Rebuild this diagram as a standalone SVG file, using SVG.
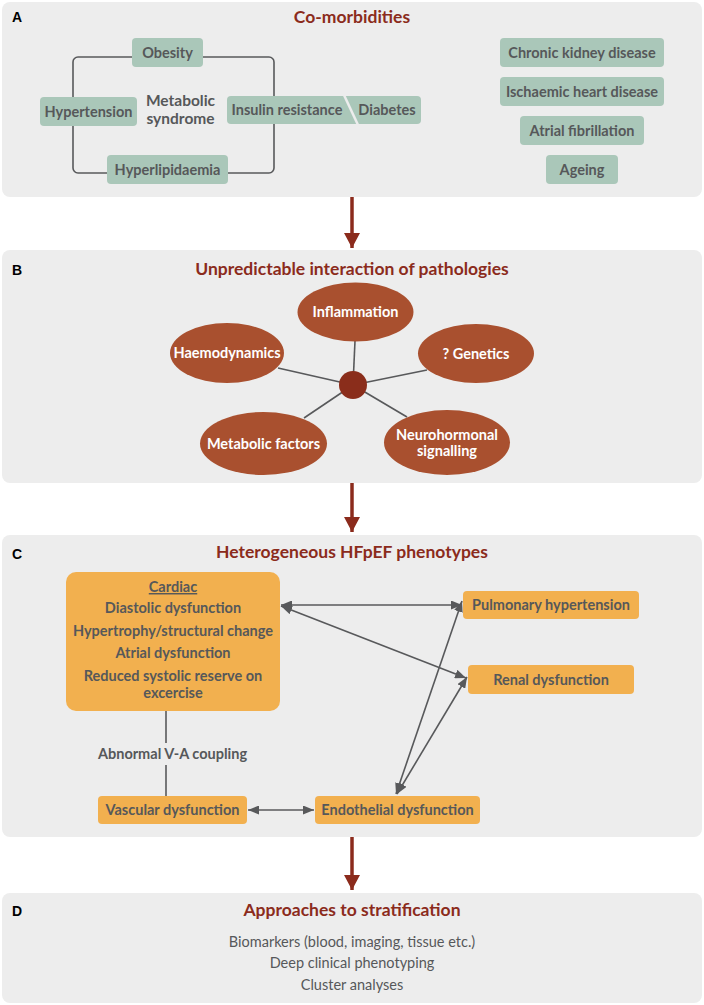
<svg xmlns="http://www.w3.org/2000/svg" width="704" height="1005" viewBox="0 0 704 1005">
<defs>
<style>
.panel{fill:#ededed}
.lbl{font-family:"Liberation Sans",Arial,sans-serif;font-weight:bold;font-size:14px;fill:#000}
.title{font-family:Lato,"Open Sans",sans-serif;font-weight:bold;font-size:17.5px;fill:#8b2b1c;text-anchor:middle}
.g{fill:#aac7b9}
.o{fill:#f2b04f}
.el{fill:#a9502f}
.t{font-family:Lato,"Open Sans",sans-serif;font-weight:bold;font-size:14.5px;fill:#56585a;text-anchor:middle}
.w{font-family:Lato,"Open Sans",sans-serif;font-weight:bold;font-size:14.5px;fill:#fff;text-anchor:middle}
.r{font-family:Lato,"Open Sans",sans-serif;font-size:14.5px;fill:#56585a;text-anchor:middle}
.ln{stroke:#58595b;stroke-width:1.6;fill:none}
.ga{stroke:#58595b;stroke-width:1.6;fill:none;marker-start:url(#gh);marker-end:url(#gh)}
.ra{stroke:#8b2b1c;stroke-width:3.5;fill:none;marker-end:url(#rh)}
</style>
<marker id="gh" markerUnits="userSpaceOnUse" markerWidth="11" markerHeight="9" refX="11" refY="4.5" orient="auto-start-reverse"><path d="M0,0 L11,4.5 L0,9 Z" fill="#58595b"/></marker>
<marker id="rh" markerUnits="userSpaceOnUse" markerWidth="15" markerHeight="16" refX="15" refY="8" orient="auto"><path d="M0,0 L15,8 L0,16 Z" fill="#8b2b1c"/></marker>
</defs>

<!-- Panels -->
<g id="panelA"><rect class="panel" x="2" y="2" width="700" height="195" rx="8"/><text class="lbl" x="12" y="22">A</text><text class="title" x="352" y="23">Co-morbidities</text></g>
<g id="panelB"><rect class="panel" x="2" y="250" width="700" height="233" rx="8"/><text class="lbl" x="12" y="275">B</text><text class="title" x="352" y="275">Unpredictable interaction of pathologies</text></g>
<g id="panelC"><rect class="panel" x="2" y="535" width="700" height="302" rx="8"/><text class="lbl" x="12" y="559">C</text><text class="title" x="352" y="558">Heterogeneous HFpEF phenotypes</text></g>
<g id="panelD"><rect class="panel" x="2" y="893" width="700" height="110" rx="8"/><text class="lbl" x="12" y="916">D</text><text class="title" x="352" y="916">Approaches to stratification</text></g>

<!-- Connectors -->
<g id="connectors">
<rect class="ln" x="73" y="57" width="201" height="116" rx="5"/>
<line class="ra" x1="352" y1="197" x2="352" y2="248"/>
<line class="ra" x1="352" y1="483" x2="352" y2="532"/>
<line class="ra" x1="352" y1="837" x2="352" y2="890"/>
<line class="ln" x1="353" y1="385" x2="355" y2="341"/>
<line class="ln" x1="353" y1="385" x2="278" y2="368"/>
<line class="ln" x1="353" y1="385" x2="427" y2="370"/>
<line class="ln" x1="353" y1="385" x2="304" y2="418"/>
<line class="ln" x1="353" y1="385" x2="407" y2="417"/>
<line class="ln" x1="166" y1="711" x2="166" y2="743"/>
<line class="ln" x1="166" y1="765" x2="166" y2="796"/>
<line class="ga" x1="281" y1="605" x2="462" y2="605"/>
<line class="ga" x1="281" y1="606" x2="466" y2="678"/>
<line class="ga" x1="396" y1="794" x2="462" y2="601"/>
<line class="ga" x1="397" y1="794" x2="467" y2="677"/>
<line class="ga" x1="248" y1="810" x2="314" y2="810"/>
</g>

<!-- Panel A nodes -->
<g id="obesity"><rect class="g" x="132" y="38" width="71" height="29" rx="4"/><text class="t" x="167.5" y="57.5">Obesity</text></g>
<g id="hypertension"><rect class="g" x="40" y="97" width="97" height="29" rx="4"/><text class="t" x="88.5" y="116.5">Hypertension</text></g>
<g id="hyperlipidaemia"><rect class="g" x="107" y="155" width="121" height="29" rx="4"/><text class="t" x="167.5" y="174.5">Hyperlipidaemia</text></g>
<g id="metabolic-syndrome"><text class="t" style="font-size:15.5px" x="180.5" y="106">Metabolic</text><text class="t" style="font-size:15.5px" x="180.5" y="124">syndrome</text></g>
<g id="insulin-diabetes"><rect class="g" x="227" y="96" width="194" height="28" rx="4"/><line x1="344" y1="95" x2="358" y2="125" stroke="#ededed" stroke-width="2.5"/><text class="t" x="287" y="115">Insulin resistance</text><text class="t" x="387" y="115">Diabetes</text></g>
<g id="ckd"><rect class="g" x="500" y="38" width="164" height="29" rx="4"/><text class="t" x="582" y="57.5">Chronic kidney disease</text></g>
<g id="ihd"><rect class="g" x="500" y="77" width="164" height="29" rx="4"/><text class="t" x="582" y="96.5">Ischaemic heart disease</text></g>
<g id="af"><rect class="g" x="520" y="116" width="124" height="29" rx="4"/><text class="t" x="582" y="135.5">Atrial fibrillation</text></g>
<g id="ageing"><rect class="g" x="546" y="155" width="72" height="29" rx="4"/><text class="t" x="582" y="174.5">Ageing</text></g>

<!-- Panel B nodes -->
<g id="inflammation"><ellipse class="el" cx="355.5" cy="312" rx="58" ry="29.5"/><text class="w" x="355.5" y="317">Inflammation</text></g>
<g id="haemodynamics"><ellipse class="el" cx="227" cy="353" rx="57" ry="30"/><text class="w" x="227" y="358">Haemodynamics</text></g>
<g id="genetics"><ellipse class="el" cx="476" cy="353.5" rx="58" ry="29.5"/><text class="w" x="476" y="358.5">? Genetics</text></g>
<g id="metabolic-factors"><ellipse class="el" cx="263.5" cy="443.5" rx="63.5" ry="31.5"/><text class="w" x="263.5" y="448.5">Metabolic factors</text></g>
<g id="neurohormonal"><ellipse class="el" cx="447" cy="442.5" rx="63" ry="32.5"/><text class="w" x="447" y="440">Neurohormonal</text><text class="w" x="447" y="456">signalling</text></g>
<g id="hub"><circle cx="353" cy="385" r="14" fill="#8a2d1b"/></g>

<!-- Panel C nodes -->
<g id="cardiac"><rect class="o" x="66" y="572" width="214" height="139" rx="10"/>
<text class="t" x="173" y="592" style="text-decoration:underline">Cardiac</text>
<text class="t" x="173" y="613">Diastolic dysfunction</text>
<text class="t" x="173" y="636">Hypertrophy/structural change</text>
<text class="t" x="173" y="658">Atrial dysfunction</text>
<text class="t" x="173" y="681">Reduced systolic reserve on</text>
<text class="t" x="173" y="698">excercise</text></g>
<g id="va-coupling"><text class="t" x="172.5" y="759">Abnormal V-A coupling</text></g>
<g id="vascular"><rect class="o" x="98" y="796" width="149" height="28" rx="4"/><text class="t" x="172.5" y="815">Vascular dysfunction</text></g>
<g id="endothelial"><rect class="o" x="315" y="796" width="165" height="28" rx="4"/><text class="t" x="397.5" y="815">Endothelial dysfunction</text></g>
<g id="pulmonary"><rect class="o" x="463" y="591" width="176" height="28" rx="4"/><text class="t" x="551" y="610">Pulmonary hypertension</text></g>
<g id="renal"><rect class="o" x="468" y="665" width="166" height="29" rx="4"/><text class="t" x="551" y="684.5">Renal dysfunction</text></g>

<!-- Panel D -->
<g id="approaches"><text class="r" x="352" y="947">Biomarkers (blood, imaging, tissue etc.)</text><text class="r" x="352" y="968">Deep clinical phenotyping</text><text class="r" x="352" y="990">Cluster analyses</text></g>
</svg>
